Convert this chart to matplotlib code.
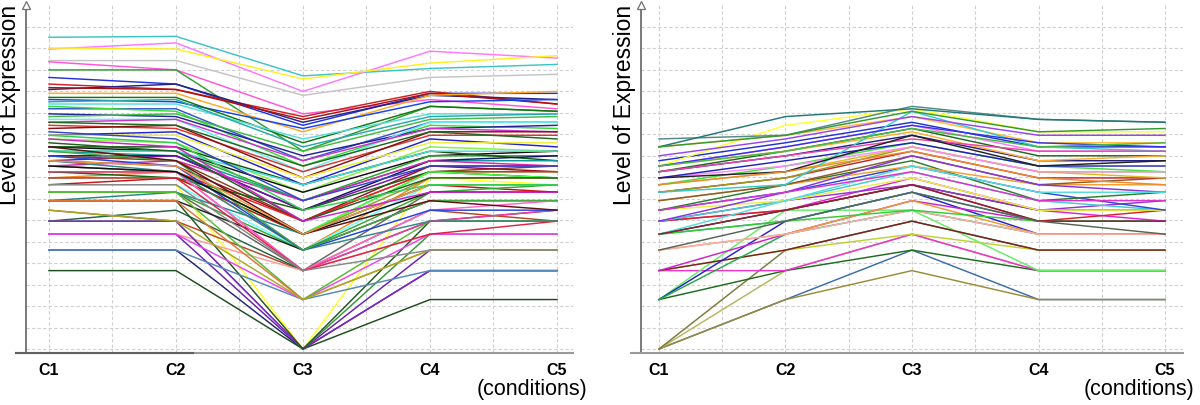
import numpy as np
import matplotlib
matplotlib.use("Agg")
import matplotlib.pyplot as plt
from matplotlib.ticker import FixedLocator, NullLocator, NullFormatter

# ---------------- data (expression counts, plotted on a log2 scale) ----------------
conditions = ["C1", "C2", "C3", "C4", "C5"]

left_c1 = [79, 67, 68, 57, 56, 50, 45, 41, 38, 39, 36, 33, 34, 31, 32, 29, 30, 27, 26, 25,
           24, 23, 22, 24, 20, 20, 19, 17, 16, 17, 16, 15, 16, 14, 15, 14, 13, 13, 12, 12,
           11, 12, 11, 10, 10, 10, 9, 9, 8, 8, 7, 6, 5, 4, 3, 5, 6, 6, 8, 4,
           5, 9, 8, 7, 12, 13, 11, 10, 14, 15, 16, 13, 17, 14, 18, 20, 19, 21]
left_c2 = [80, 73, 67, 57, 50, 50, 41, 38, 41, 38, 36, 32, 34, 31, 33, 29, 28, 26, 27, 25,
           25, 22, 23, 23, 21, 20, 18, 16, 16, 17, 15, 15, 16, 15, 14, 13, 14, 12, 12, 12,
           12, 11, 11, 10, 11, 10, 9, 9, 8, 9, 6, 7, 5, 4, 3, 5, 6, 6, 8, 4,
           5, 9, 8, 6, 12, 12, 11, 10, 12, 13, 14, 12, 14, 13, 16, 18, 17, 19]
left_c3 = [46, 37, 44, 35, 27, 16, 23, 26, 24, 25, 21, 22, 18, 19, 17, 14, 13, 15, 16, 12,
           14, 12, 11, 13, 10, 11, 9, 9, 8, 10, 8, 7, 10, 7, 6, 6, 8, 5, 5, 6,
           4, 7, 5, 4, 5, 1, 3, 4, 4, 5, 3, 3, 3, 1, 1, 1, 1, 1, 1, 2,
           2, 2, 2, 2, 3, 3, 3, 3, 4, 4, 4, 5, 5, 5, 6, 7, 6, 8]
left_c4 = [51, 65, 55, 45, 33, 30, 36, 37, 35, 36, 35, 32, 30, 27, 26, 24, 23, 22, 25, 24,
           22, 20, 21, 21, 19, 18, 17, 15, 15, 16, 14, 14, 16, 13, 12, 13, 14, 12, 11, 12,
           11, 12, 12, 10, 10, 11, 9, 9, 8, 10, 7, 6, 5, 3, 2, 4, 5, 3, 6, 3,
           5, 6, 4, 4, 6, 7, 5, 4, 6, 7, 8, 9, 8, 10, 11, 10, 9, 13]
left_c5 = [54, 59, 61, 47, 29, 28, 36, 31, 33, 31, 37, 33, 28, 27, 27, 24, 22, 23, 26, 24,
           21, 20, 21, 19, 17, 18, 16, 16, 15, 14, 14, 15, 16, 13, 13, 12, 13, 12, 11, 12,
           11, 11, 11, 10, 9, 10, 9, 10, 8, 10, 6, 7, 5, 3, 2, 4, 5, 3, 6, 3,
           5, 6, 4, 4, 7, 8, 6, 4, 6, 7, 8, 9, 7, 10, 11, 10, 9, 13]

right_c1 = [1, 1, 1, 1, 2, 3, 3, 2, 3, 2, 2, 3, 4, 4, 5, 5, 5, 6, 6, 6,
            6, 7, 7, 7, 8, 8, 9, 9, 10, 10, 11, 11, 12, 12, 13, 13, 14, 17, 13, 9,
            19, 17, 17, 15, 13, 13, 12, 11, 10, 6, 5, 7, 5, 4]
right_c2 = [2, 2, 3, 4, 3, 3, 4, 7, 4, 6, 5, 5, 5, 5, 6, 6, 7, 7, 7, 8,
            8, 8, 9, 10, 10, 10, 11, 11, 12, 13, 13, 14, 15, 16, 16, 17, 18, 20, 23, 10,
            20, 26, 20, 19, 17, 16, 15, 12, 12, 9, 8, 9, 7, 6]
right_c3 = [4, 3, 5, 6, 4, 5, 5, 7, 6, 9, 7, 8, 8, 7, 9, 7, 10, 11, 10, 10,
            12, 11, 13, 14, 13, 15, 16, 17, 17, 18, 17, 18, 20, 22, 21, 23, 24, 26, 29, 28,
            30, 29, 28, 26, 23, 22, 19, 20, 16, 15, 13, 12, 10, 9]
right_c4 = [2, 2, 3, 4, 3, 3, 4, 3, 4, 5, 5, 6, 5, 5, 6, 6, 7, 7, 6, 7,
            8, 7, 9, 8, 10, 10, 11, 12, 12, 13, 12, 13, 14, 15, 14, 16, 17, 18, 21, 17,
            25, 25, 21, 20, 18, 17, 16, 13, 11, 10, 9, 8, 6, 6]
right_c5 = [2, 2, 3, 4, 3, 3, 4, 3, 4, 5, 5, 6, 5, 5, 6, 6, 7, 6, 7, 8,
            7, 7, 7, 9, 10, 11, 11, 12, 11, 12, 12, 13, 14, 15, 15, 16, 17, 18, 21, 16,
            24, 24, 22, 20, 17, 18, 16, 14, 10, 9, 9, 8, 6, 5]

# ---------------- styles ----------------
left_colors = ["#3cc4c8", "#ff77ff", "#ffee22", "#c4c4c4", "#ff55dd", "#2e9e2e", "#2233dd", "#cc2222",
               "#222288", "#aa1111", "#ffaa22", "#1144ee", "#117711", "#55dddd", "#22aaaa", "#3355cc",
               "#33dd33", "#222299", "#44bb44", "#66eeee", "#cc33cc", "#dd3333", "#881111", "#226622",
               "#2222cc", "#eeee33", "#88ee44", "#111111", "#22aa22", "#115511", "#119999", "#111166",
               "#44dddd", "#7711aa", "#884422", "#991122", "#dd22aa", "#22cc22", "#999922", "#ee2222",
               "#ee8822", "#116611", "#44ff44", "#66ffff", "#cc1111", "#ffff22", "#666666", "#33aa33",
               "#222222", "#228888", "#bb4422", "#226644", "#ff9999", "#222277", "#1a4d1a", "#6622aa",
               "#339933", "#8822cc", "#225522", "#5588bb", "#ee44ee", "#55bb33", "#dd7733", "#aaaa22",
               "#ff33aa", "#ff66cc", "#dd2244", "#888888", "#338888", "#2244dd", "#44aa44", "#111111",
               "#661111", "#ee9944", "#1f5f1f", "#33cc55", "#cc22cc", "#3344cc"]
right_colors = ["#3a6ea5", "#9a8a3a", "#b5b560", "#7a7a3a", "#1f6b1f", "#ee33cc", "#c0d030", "#66ee66",
                "#772222", "#2222cc", "#22aa44", "#cc22cc", "#ee9933", "#ffaaaa", "#22aaaa", "#33cc33",
                "#333333", "#dd22dd", "#dd2222", "#9933cc", "#44cccc", "#eeee44", "#3344dd", "#2d7d2d",
                "#f0a030", "#8a5a2a", "#cc2222", "#999922", "#ddbb22", "#44dd44", "#ff88ff", "#2222bb",
                "#222288", "#226622", "#ffaa33", "#ff77ff", "#2233cc", "#ffbb33", "#ffff33", "#33cccc",
                "#558888", "#227777", "#339933", "#9944ee", "#3333ee", "#44bb44", "#ee44aa", "#222222",
                "#ee8833", "#8833dd", "#55dddd", "#dd33cc", "#882233", "#556655"]

plt.rcParams["font.family"] = ["Liberation Sans", "DejaVu Sans"]

fig = plt.figure(figsize=(12, 4.05), dpi=100)

UNIT = 2.3                      # grid spacing in log2 units
YLO, YHI = -0.186, 16.0         # in grid units
grid_levels = [2 ** (k / UNIT) for k in range(16)]

def make_panel(rect, xlim, cols, colors, label_x, dark_base_end=None):
    ax = fig.add_axes(rect)
    ax.set_yscale("log", base=2)
    x = np.arange(len(conditions))
    data = np.array(cols).T
    for row, c in zip(data, colors):
        ax.plot(x, row, color=c, lw=1.05, solid_joinstyle="miter", zorder=3)
    ax.set_xlim(*xlim)
    ax.set_ylim(2 ** (YLO / UNIT), 2 ** (YHI / UNIT))
    ax.yaxis.set_major_locator(FixedLocator(grid_levels))
    ax.yaxis.set_minor_locator(NullLocator())
    ax.yaxis.set_major_formatter(NullFormatter())
    ax.yaxis.set_minor_formatter(NullFormatter())
    ax.set_xticks(x)
    ax.set_xticklabels(conditions, fontsize=11.5, fontweight="bold")
    ax.set_xticks(x[:-1] + 0.5, minor=True)
    ax.tick_params(axis="both", which="both", length=0)
    ax.tick_params(axis="x", pad=7)
    ax.grid(True, which="both", axis="x", color="#d0d0d0", ls=(0, (3, 2)), lw=0.8, zorder=0)
    ax.grid(True, which="major", axis="y", color="#d0d0d0", ls=(0, (3, 2)), lw=0.8, zorder=0)
    for s in ["top", "right", "bottom"]:
        ax.spines[s].set_visible(False)
    ax.spines["left"].set_color("#707070")
    ax.spines["left"].set_linewidth(1.3)
    ymin = 2 ** (YLO / UNIT)
    ax.plot([xlim[0] - 0.08, xlim[1]], [ymin, ymin], color="#9a9a9a", lw=1.5,
            clip_on=False, zorder=4)
    if dark_base_end is not None:
        ax.plot([xlim[0] - 0.08, dark_base_end], [ymin, ymin], color="#606060", lw=1.5,
                clip_on=False, zorder=4)
    ax.plot([0], [1.0], transform=ax.transAxes, marker="^", ms=6, mfc="white",
            mec="#707070", mew=0.9, clip_on=False, zorder=6)
    fig.text(label_x, 0.988, "Level of Expression", rotation=90, ha="center", va="top",
             fontsize=16.5)
    return ax

bottom = (405 - 353) / 405
height = (353 - 5) / 405
axL = make_panel([26 / 1200, bottom, (573 - 26) / 1200, height], (-0.181, 4.126),
                 [left_c1, left_c2, left_c3, left_c4, left_c5], left_colors, 10 / 1200,
                 dark_base_end=1.13)
axR = make_panel([641 / 1200, bottom, (1183 - 641) / 1200, height], (-0.142, 4.142),
                 [right_c1, right_c2, right_c3, right_c4, right_c5], right_colors, 625 / 1200)

fig.text(587 / 1200, 15 / 405, "(conditions)", ha="right", va="center", fontsize=15.5)
fig.text(1194 / 1200, 15 / 405, "(conditions)", ha="right", va="center", fontsize=15.5)

fig.savefig("out.png", dpi=100, facecolor="white")
